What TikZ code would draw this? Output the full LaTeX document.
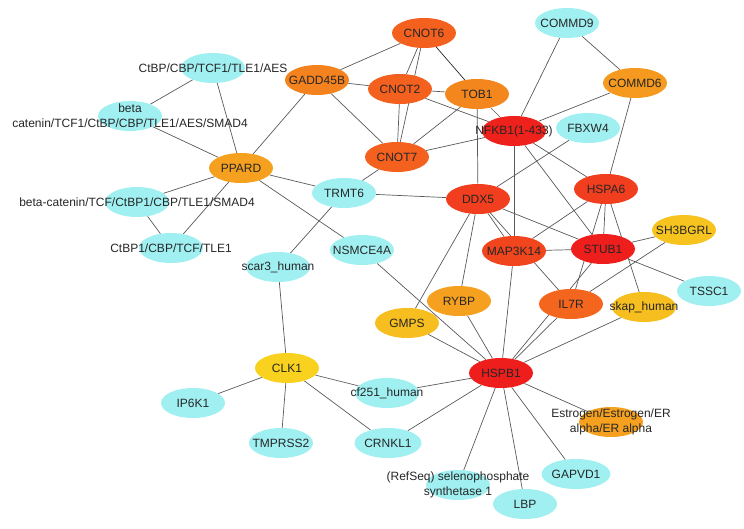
\documentclass[tikz,border=0pt]{standalone}
\usepackage{fontspec}
\setmainfont{Liberation Sans}
\usepackage{tikz}
\usetikzlibrary{shapes.geometric}
\usepackage{xcolor}
\definecolor{genecyan}{HTML}{A0F0F2}
\definecolor{hubred}{HTML}{EE1E1C}
\definecolor{redorange}{HTML}{F03E1E}
\definecolor{deeporange}{HTML}{F4601E}
\definecolor{midorange}{HTML}{F4821E}
\definecolor{amber}{HTML}{F5A01E}
\definecolor{gold}{HTML}{F7BE20}
\definecolor{sun}{HTML}{F8D21E}
\pgfdeclarelayer{background}
\pgfsetlayers{background,main}
\newcommand{\gtxt}[1]{\makebox[0pt]{#1}}

\begin{document}
\begin{tikzpicture}[x=1pt, y=-1pt,
    gene/.style={ellipse, minimum width=64pt, minimum height=30pt, inner sep=0pt,
        font=\fontsize{12}{15}\selectfont, text=black!85},
    twoline/.style={align=center, inner sep=0pt, font=\fontsize{12}{15}\selectfont, text=black!85},
    link/.style={draw=black!65, line width=0.7pt}]
    \useasboundingbox (0,0) rectangle (744,528);

    % Left complexes around PPARD
    \node[gene, fill=genecyan] (aes) at (213,68) {\gtxt{CtBP/CBP/TCF1/TLE1/AES}};
    \node[gene, fill=genecyan, label={[twoline]center:beta\\catenin/TCF1/CtBP/CBP/TLE1/AES/SMAD4}] (betaA) at (130,116) {};
    \node[gene, fill=amber] (ppard) at (241,168) {PPARD};
    \node[gene, fill=genecyan] (betaB) at (137,202) {\gtxt{beta-catenin/TCF/CtBP1/CBP/TLE1/SMAD4}};
    \node[gene, fill=genecyan] (ctbp) at (171,248) {\gtxt{CtBP1/CBP/TCF/TLE1}};
    \node[gene, fill=genecyan] (trmt) at (344,193) {TRMT6};
    \node[gene, fill=genecyan] (nsmce) at (362,250) {\gtxt{NSMCE4A}};
    \node[gene, fill=genecyan] (scar) at (278,267) {\gtxt{scar3\_human}};

    % CNOT cluster
    \node[gene, fill=midorange] (gadd) at (317,80) {\gtxt{GADD45B}};
    \node[gene, fill=deeporange] (cnotsix) at (424,33) {CNOT6};
    \node[gene, fill=deeporange] (cnottwo) at (400,89) {CNOT2};
    \node[gene, fill=midorange!85!amber] (tob) at (477,94) {TOB1};
    \node[gene, fill=deeporange] (cnotseven) at (397,157) {CNOT7};

    % Upper right
    \node[gene, fill=genecyan] (commdnine) at (567,23) {\gtxt{COMMD9}};
    \node[gene, fill=amber!80!midorange] (commdsix) at (635,83) {\gtxt{COMMD6}};
    \node[gene, fill=hubred!90!redorange] (nfkb) at (514,131) {\gtxt{NFKB1(1-433)}};
    \node[gene, fill=genecyan] (fbxw) at (588,128) {FBXW4};
    \node[gene, fill=redorange] (ddx) at (478,199) {DDX5};
    \node[gene, fill=redorange] (hspa) at (606,189) {HSPA6};
    \node[gene, fill=gold!70!sun] (sh) at (684,230) {\gtxt{SH3BGRL}};
    \node[gene, fill=redorange!80!deeporange] (mapk) at (514,251) {\gtxt{MAP3K14}};
    \node[gene, fill=hubred] (stub) at (603,249) {STUB1};
    \node[gene, fill=genecyan] (tssc) at (709,291) {TSSC1};

    % Around HSPB1
    \node[gene, fill=gold] (gmps) at (407,323) {GMPS};
    \node[gene, fill=amber] (rybp) at (459,301) {RYBP};
    \node[gene, fill=deeporange!85!midorange] (il) at (571,304) {IL7R};
    \node[gene, fill=gold] (skap) at (644,307) {\gtxt{skap\_human}};
    \node[gene, fill=hubred] (hspb) at (501,373) {HSPB1};
    \node[gene, fill=amber, label={[twoline]center:Estrogen/Estrogen/ER\\alpha/ER alpha}] (estro) at (611,422) {};
    \node[gene, fill=genecyan] (gapvd) at (576,474) {GAPVD1};
    \node[gene, fill=genecyan] (lbp) at (525,504) {LBP};
    \node[gene, fill=genecyan, label={[twoline]center:(RefSeq) selenophosphate\\synthetase 1}] (seleno) at (458,485) {};
    \node[gene, fill=genecyan] (cf) at (387,393) {\gtxt{cf251\_human}};
    \node[gene, fill=genecyan] (crnkl) at (388,443) {CRNKL1};

    % CLK1 star
    \node[gene, fill=sun] (clk) at (287,368) {CLK1};
    \node[gene, fill=genecyan] (ip) at (193,403) {IP6K1};
    \node[gene, fill=genecyan] (tmprss) at (281,443) {\gtxt{TMPRSS2}};

    % Interactions
    \begin{pgfonlayer}{background}
    \draw[link] (ppard) -- (aes);
    \draw[link] (ppard) -- (betaA);
    \draw[link] (ppard) -- (gadd);
    \draw[link] (ppard) -- (trmt);
    \draw[link] (ppard) -- (betaB);
    \draw[link] (ppard) -- (ctbp);
    \draw[link] (ppard) -- (nsmce);
    \draw[link] (aes) -- (betaA);
    \draw[link] (betaB) -- (ctbp);
    \draw[link] (gadd) -- (cnotsix);
    \draw[link] (gadd) -- (cnottwo);
    \draw[link] (gadd) -- (cnotseven);
    \draw[link] (cnotsix) -- (cnottwo);
    \draw[link] (cnotsix) -- (cnotseven);
    \draw[link, draw=black!85] (cnotsix) -- (tob);
    \draw[link] (cnottwo) -- (tob);
    \draw[link] (cnottwo) -- (cnotseven);
    \draw[link] (cnottwo) -- (nfkb);
    \draw[link] (tob) -- (cnotseven);
    \draw[link] (tob) -- (nfkb);
    \draw[link] (tob) -- (ddx);
    \draw[link] (cnotseven) -- (nfkb);
    \draw[link] (cnotseven) -- (trmt);
    \draw[link] (trmt) -- (ddx);
    \draw[link] (trmt) -- (scar);
    \draw[link] (nfkb) -- (commdnine);
    \draw[link] (nfkb) -- (commdsix);
    \draw[link] (commdnine) -- (commdsix);
    \draw[link] (commdsix) -- (hspa);
    \draw[link] (fbxw) -- (ddx);
    \draw[link] (nfkb) -- (mapk);
    \draw[link] (nfkb) -- (hspa);
    \draw[link] (nfkb) -- (stub);
    \draw[link] (ddx) -- (mapk);
    \draw[link] (ddx) -- (il);
    \draw[link] (ddx) -- (stub);
    \draw[link] (ddx) -- (gmps);
    \draw[link] (ddx) -- (rybp);
    \draw[link] (hspa) -- (mapk);
    \draw[link] (hspa) -- (stub);
    \draw[link] (hspa) -- (il);
    \draw[link] (hspa) -- (skap);
    \draw[link] (mapk) -- (stub);
    \draw[link] (mapk) -- (hspb);
    \draw[link] (stub) -- (sh);
    \draw[link] (stub) -- (tssc);
    \draw[link] (stub) -- (hspb);
    \draw[link] (sh) -- (il);
    \draw[link] (skap) -- (hspb);
    \draw[link] (il) -- (hspb);
    \draw[link] (rybp) -- (hspb);
    \draw[link] (gmps) -- (hspb);
    \draw[link] (nsmce) -- (hspb);
    \draw[link] (hspb) -- (cf);
    \draw[link] (hspb) -- (crnkl);
    \draw[link] (hspb) -- (seleno);
    \draw[link] (hspb) -- (lbp);
    \draw[link] (hspb) -- (gapvd);
    \draw[link] (hspb) -- (estro);
    \draw[link] (clk) -- (scar);
    \draw[link] (clk) -- (ip);
    \draw[link] (clk) -- (tmprss);
    \draw[link] (clk) -- (cf);
    \draw[link] (clk) -- (crnkl);
    \end{pgfonlayer}
\end{tikzpicture}
\end{document}
